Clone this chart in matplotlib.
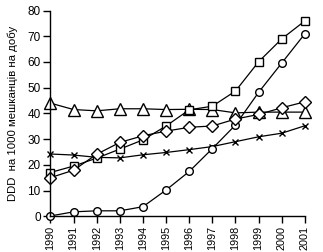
import matplotlib
matplotlib.use("Agg")
import matplotlib.pyplot as plt

plt.rcParams['font.family'] = ['Liberation Sans Narrow', 'Liberation Sans', 'DejaVu Sans']

years = list(range(1990, 2002))
triangles = [44, 41.5, 41, 41.8, 41.8, 41.5, 41.6, 41.5, 40.2, 40.5, 40.5, 40.5]
squares = [17, 19.5, 22.6, 26.1, 29.7, 35.1, 41.4, 42.8, 48.7, 60.1, 69, 76]
circles = [0.1, 1.7, 2.1, 2.1, 3.7, 10.2, 17.4, 26.3, 35.5, 48.2, 59.6, 71]
diamonds = [15, 17.9, 24.1, 28.7, 31.3, 33.1, 34.6, 35.1, 37.8, 39.6, 42.2, 44.5]
crosses = [24.2, 23.8, 22.9, 22.7, 23.9, 24.8, 25.9, 27.1, 29, 30.9, 32.3, 35.2]

fig = plt.figure(figsize=(3.23, 2.52), dpi=100)
ax = fig.add_axes([0.156, 0.142, 0.788, 0.816])

kw = dict(color='black', lw=0.9, mfc='white', mec='black', mew=1.0, clip_on=False)
ax.plot(years, crosses, marker='x', ms=5, **kw)
ax.plot(years, circles, marker='o', ms=5.5, **kw)
ax.plot(years, triangles, marker='^', ms=8, **kw)
ax.plot(years, squares, marker='s', ms=6, **kw)
ax.plot(years, diamonds, marker='D', ms=6.5, **kw)

ax.set_xlim(1990, 2001)
ax.set_ylim(0, 80)
ax.set_xticks(years)
ax.set_xticklabels([str(y) for y in years], rotation=90, fontsize=7.8)
ax.set_yticks(range(0, 81, 10))
ax.tick_params(axis='y', labelsize=8.5, length=5, width=1, pad=2)
ax.tick_params(axis='x', length=5, width=1, pad=2)
for s in ['top', 'right']:
    ax.spines[s].set_visible(False)
for s in ['left', 'bottom']:
    ax.spines[s].set_linewidth(1)
ax.set_ylabel('DDD  на 1000 мешканців на добу', fontsize=8.2, labelpad=7)

fig.savefig('out.png', dpi=100)
